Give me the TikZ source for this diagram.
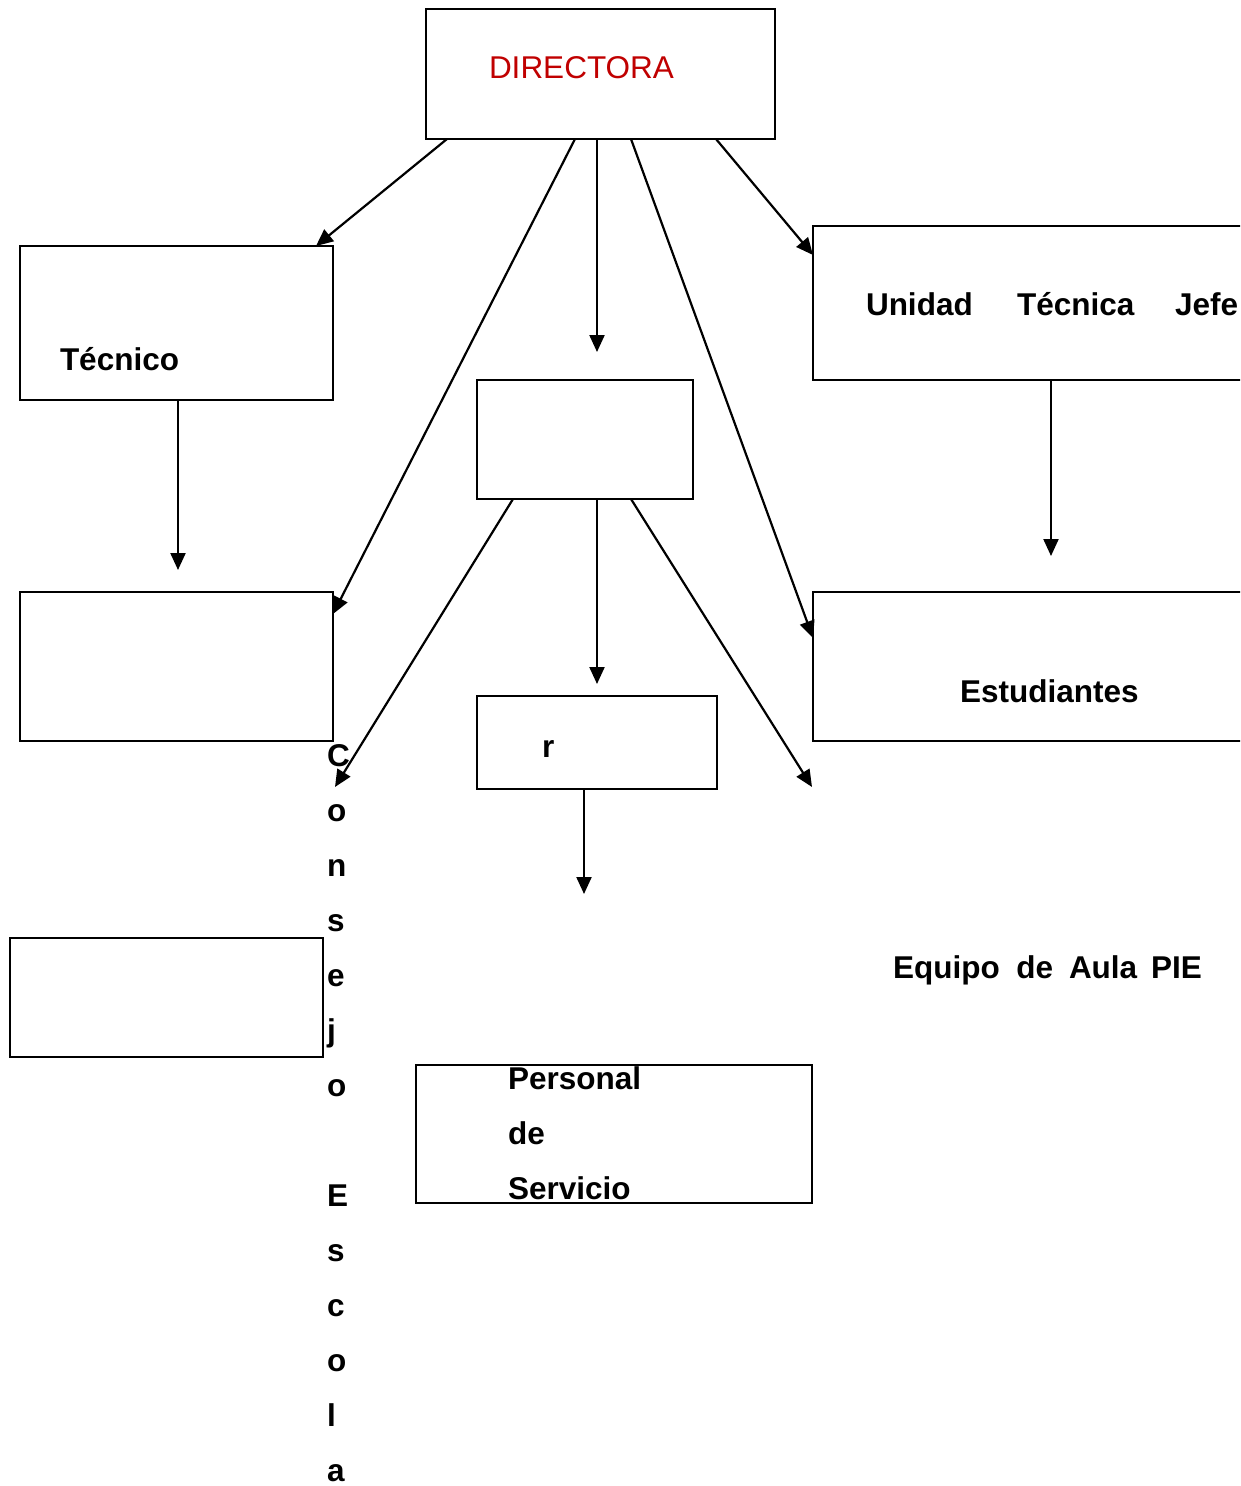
\documentclass[tikz,border=0pt]{standalone}
\usepackage{fontspec}
\setmainfont{Liberation Sans}
\usetikzlibrary{arrows.meta,calc}
\definecolor{dirred}{RGB}{192,0,0}
\begin{document}
\begin{tikzpicture}[x=1pt,y=-1pt,
 box/.style={draw, line width=2pt, inner sep=0pt, outer sep=0pt, anchor=north west},
 lbl/.style={inner sep=0pt, outer sep=0pt, font=\fontsize{31.5}{37}\selectfont\bfseries, anchor=base west},
 stack/.style={inner sep=0pt, outer sep=0pt, font=\fontsize{31.5}{55}\selectfont\bfseries, align=left, anchor=north west},
 conn/.style={line width=2.2pt, -{Triangle[length=17pt,width=15pt]}}]
\useasboundingbox (0,0) rectangle (1240,1486);
\clip (0,0) rectangle (1240,1486);
% boxes
\node[box, minimum width=349pt, minimum height=130pt] (dir) at (426,9) {};
\node[box, minimum width=313pt, minimum height=154pt] (tec) at (20,246) {};
\node[box, minimum width=216pt, minimum height=119pt] (mid) at (477,380) {};
\node[box, minimum width=440pt, minimum height=154pt] (uni) at (813,226) {};
\node[box, minimum width=313pt, minimum height=149pt] (lb2) at (20,592) {};
\node[box, minimum width=240pt, minimum height=93pt] (rb) at (477,696) {};
\node[box, minimum width=440pt, minimum height=149pt] (est) at (813,592) {};
\node[box, minimum width=313pt, minimum height=119pt] (lb3) at (10,938) {};
\node[box, minimum width=396pt, minimum height=138pt] (per) at (416,1065) {};
% labels
\node[lbl, font=\fontsize{31.5}{37}\selectfont, text=dirred] (tdir) at (489,78) {DIRECTORA};
\node[lbl] (ttec) at (60,370) {Técnico};
\node[lbl] (tuni1) at (866,315) {Unidad};
\node[lbl] (tuni2) at (1017,315) {Técnica};
\node[lbl] (tuni3) at (1175,315) {Jefe};
\node[lbl] (test) at (960,702) {Estudiantes};
\node[lbl] (tr) at (542,757) {r};
\node[stack] (tper) at (508,1066.5) {Personal\\de\\Servicio};
\node[lbl] (tpie) at (893,978) {Equipo\hspace{8pt} de\hspace{7pt} Aula\hspace{5pt} PIE};
\node[stack] (tcon) at (327,744) {C\\o\\n\\s\\e\\j\\o\\\mbox{}\\E\\s\\c\\o\\l\\a};
% free ends
\coordinate (e3) at (597,352);
\coordinate (e6) at (178,570);
\coordinate (e7) at (1051,556);
\coordinate (e8) at (335,787);
\coordinate (e9) at (597,684);
\coordinate (e10) at (812,787);
\coordinate (e11) at (584,894);
% connectors
\draw[conn] ($(dir.south west)+(21,0)$) -- ($(tec.north east)+(-17,0)$);
\draw[conn] ($(dir.south west)+(149,0)$) -- ($(lb2.north east)+(0,22)$);
\draw[conn] ($(dir.south west)+(171,0)$) -- (e3);
\draw[conn] ($(dir.south west)+(205,0)$) -- ($(est.north west)+(0,46)$);
\draw[conn] ($(dir.south west)+(290,0)$) -- ($(uni.north west)+(0,29)$);
\draw[conn] ($(tec.south west)+(158,0)$) -- (e6);
\draw[conn] ($(uni.south west)+(238,0)$) -- (e7);
\draw[conn] ($(mid.south west)+(36,0)$) -- (e8);
\draw[conn] ($(mid.south west)+(120,0)$) -- (e9);
\draw[conn] ($(mid.south west)+(154,0)$) -- (e10);
\draw[conn] ($(rb.south west)+(107,0)$) -- (e11);
\end{tikzpicture}
\end{document}
